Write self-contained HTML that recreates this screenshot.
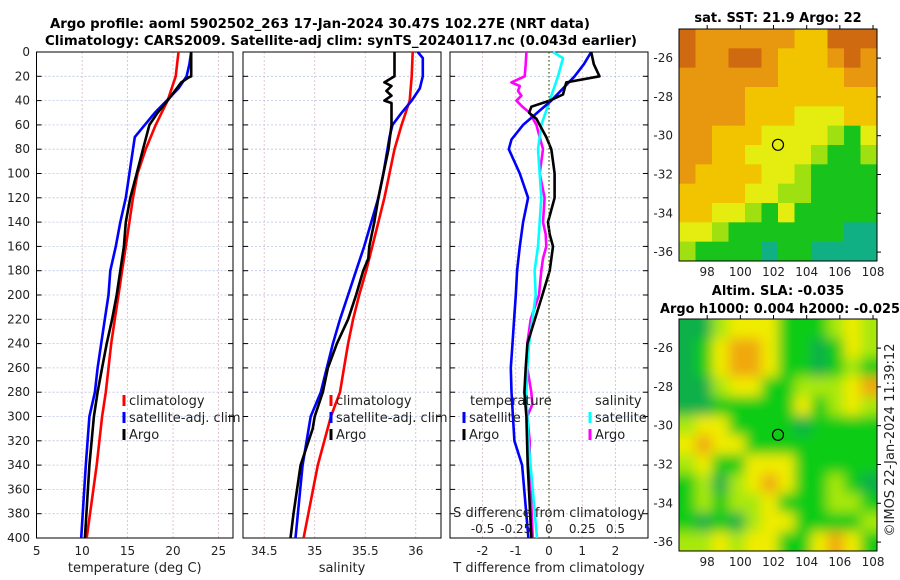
<!DOCTYPE html>
<html><head><meta charset="utf-8"><style>
html,body{margin:0;padding:0;background:#fff;}
svg{display:block;font-family:"DejaVu Sans","Liberation Sans",sans-serif;}
</style></head><body>
<svg id="fig" width="900" height="580" viewBox="0 0 900 580" xmlns="http://www.w3.org/2000/svg">
<defs>
<filter id="blur" x="0" y="0" width="1" height="1"><feGaussianBlur stdDeviation="6"/></filter>
<clipPath id="m1clip"><rect x="679" y="29" width="198" height="232"/></clipPath>
<clipPath id="m2clip"><rect x="679" y="319" width="198" height="232"/></clipPath>
</defs>
<text x="320" y="28" text-anchor="middle" font-weight="bold" font-size="13" textLength="540" lengthAdjust="spacingAndGlyphs">Argo profile: aoml 5902502_263 17-Jan-2024 30.47S 102.27E (NRT data)</text>
<text x="341" y="45" text-anchor="middle" font-weight="bold" font-size="13" textLength="592" lengthAdjust="spacingAndGlyphs">Climatology: CARS2009. Satellite-adj clim: synTS_20240117.nc (0.043d earlier)</text>
<g id="plots"></g>
<g id="maps"></g>
</svg>
<script>
// ---- depth axis ----
const depthTicks = [0,20,40,60,80,100,120,140,160,180,200,220,240,260,280,300,320,340,360,380,400];
// ---- temperature panel ----
const tempTicks = [5,10,15,20,25];
const tDepthClim = [0,20,40,60,80,100,120,140,160,180,200,220,240,260,280,300,340,400];
const tempClim   = [20.6,20.3,19.4,18.1,17.0,16.1,15.6,15.2,14.8,14.4,14.0,13.6,13.2,12.9,12.6,12.2,11.6,10.5];
const tDepthSat  = [0,10,20,30,40,50,60,70,80,100,120,140,160,180,200,220,240,260,280,300,340,400];
const tempSat    = [22.0,21.8,21.5,20.6,19.3,18.0,16.9,15.8,15.6,15.2,14.8,14.2,13.7,13.1,12.9,12.5,12.1,11.7,11.4,10.8,10.4,9.9];
const tDepthArgo = [0,20,21,25,40,50,60,80,100,120,140,160,180,200,220,240,260,280,300,340,400];
const tempArgo   = [22.0,22.0,21.7,20.9,19.4,18.3,17.4,16.7,16.0,15.3,14.8,14.6,14.2,13.8,13.3,12.7,12.2,11.7,11.3,10.8,10.3];
// ---- salinity panel ----
const salTicks = [34.5,35,35.5,36];
const sDepthClim = [0,20,40,60,80,100,120,140,160,180,200,220,240,260,280,300,340,400];
const salClim    = [35.97,35.96,35.94,35.86,35.79,35.74,35.69,35.63,35.57,35.51,35.44,35.38,35.33,35.29,35.25,35.16,35.03,34.89];
const sDepthSat  = [0,5,20,30,40,50,60,70,80,100,120,140,160,180,200,220,240,260,280,300,340,400];
const salSat     = [36.02,36.07,36.07,36.04,35.96,35.86,35.77,35.74,35.72,35.68,35.63,35.56,35.49,35.41,35.33,35.25,35.18,35.12,35.06,34.96,34.88,34.81];
const sDepthArgo = [0,20,25,28,32,36,40,42,60,80,100,120,140,160,170,180,200,220,240,260,280,300,310,340,380,400];
const salArgo    = [35.79,35.79,35.69,35.76,35.71,35.76,35.69,35.76,35.76,35.73,35.68,35.63,35.59,35.54,35.53,35.48,35.41,35.33,35.22,35.13,35.08,35.0,34.98,34.86,34.79,34.76];
// ---- difference panel ----
const tdTicks = [-2,-1,0,1,2];
const sdTicks = [-0.5,-0.25,0,0.25,0.5];
const dDepthTSat = [0,10,20,40,60,72,80,100,120,140,160,180,200,220,240,260,280,320,340,400];
const tDiffSat   = [1.27,1.05,0.77,0.07,-0.78,-1.13,-1.21,-0.88,-0.63,-0.78,-0.88,-0.96,-1.0,-1.05,-1.1,-1.15,-1.13,-1.04,-0.81,-0.62];
const dDepthTArgo = [0,10,20,25,30,35,40,45,50,55,60,65,70,80,90,100,120,140,150,160,180,200,240,260,280,300,340,400];
const tDiffArgo   = [1.27,1.35,1.52,0.52,0.47,0.42,0.02,-0.53,-0.6,-0.38,-0.28,-0.18,-0.08,0.07,0.12,0.17,0.17,-0.03,0.02,0.12,0.02,-0.2,-0.65,-0.7,-0.74,-0.68,-0.64,-0.53];
const dDepthSSat = [0,5,20,40,60,80,100,120,140,160,180,200,220,240,260,280,320,360,400];
const sDiffSat   = [0.03,0.105,0.068,0.005,-0.058,-0.083,-0.07,-0.058,-0.07,-0.083,-0.108,-0.1,-0.125,-0.15,-0.163,-0.17,-0.155,-0.123,-0.09];
const dDepthSArgo = [0,10,20,25,28,32,36,40,45,50,60,70,80,100,120,140,150,160,170,180,200,220,240,260,280,290,300,320,340,400];
const sDiffArgo   = [-0.17,-0.175,-0.183,-0.283,-0.22,-0.233,-0.208,-0.245,-0.2,-0.145,-0.095,-0.07,-0.045,-0.07,-0.033,-0.045,-0.025,-0.02,-0.045,-0.058,-0.075,-0.138,-0.163,-0.163,-0.133,-0.125,-0.163,-0.145,-0.145,-0.123];

const NS='http://www.w3.org/2000/svg';
const plots=document.getElementById('plots');
function mk(tag,attrs,parent){const e=document.createElementNS(NS,tag);for(const k in attrs)e.setAttribute(k,attrs[k]);(parent||plots).appendChild(e);return e;}
const Y0=52,Y1=538;
function yD(d){return Y0+(d/400)*(Y1-Y0);}
const panels=[
 {x0:36.5,x1:233,min:4.98,max:26.6,ticks:tempTicks,label:'temperature (deg C)',name:'temperature'},
 {x0:243,x1:441,min:34.29,max:36.25,ticks:salTicks,label:'salinity',name:'salinity'},
 {x0:450,x1:648,min:-2.98,max:2.98,ticks:tdTicks,label:'T difference from climatology',name:'difference'}
];
function xf(p,v){return p.x0+(v-p.min)/(p.max-p.min)*(p.x1-p.x0);}
panels.forEach((p,i)=>{
  const g=mk('g',{});
  
  
  depthTicks.forEach(d=>{
    if(d>0&&d<400){const l=mk('line',{x1:p.x0,x2:p.x1,y1:yD(d),y2:yD(d),stroke:'#b8c4e8','stroke-width':0.8,'stroke-dasharray':'2,2'},g);
    }
    const t1=mk('line',{x1:p.x0,x2:p.x0+5,y1:yD(d),y2:yD(d),stroke:'#000'},g);
    
    const t2=mk('line',{x1:p.x1-5,x2:p.x1,y1:yD(d),y2:yD(d),stroke:'#000'},g);
    
  });
  p.ticks.forEach(v=>{
    const x=xf(p,v);
    const l=mk('line',{x1:x,x2:x,y1:Y0,y2:Y1,stroke:'#d8b8c8','stroke-width':0.8,'stroke-dasharray':'2,2'},g);
    
    const t=mk('text',{x:x,y:555,'text-anchor':'middle','font-size':12,fill:'#222'},g);
    t.textContent=String(v);
    
  });
  const r=mk('rect',{x:p.x0,y:Y0,width:p.x1-p.x0,height:Y1-Y0,fill:'none',stroke:'#000','stroke-width':1},g);
  
  const xl=mk('text',{x:(p.x0+p.x1)/2,y:572,'text-anchor':'middle','font-size':13,fill:'#222'},g);
  xl.textContent=p.label;
  
  p.g=g;
});
depthTicks.forEach(d=>{
  const t=mk('text',{x:30,y:yD(d)+4,'text-anchor':'end','font-size':12,fill:'#222'});
  t.textContent=String(d);
  
});
// zero line in diff panel
const zl=mk('line',{x1:xf(panels[2],0),x2:xf(panels[2],0),y1:Y0,y2:Y1,stroke:'#445522','stroke-width':1.2,'stroke-dasharray':'1.5,2.5'});


function series(p,depths,vals,color,name,scale){
  const pts=depths.map((d,i)=>xf(p,vals[i]*(scale||1)).toFixed(1)+','+yD(d).toFixed(1)).join(' ');
  const l=mk('polyline',{points:pts,fill:'none',stroke:color,'stroke-width':2.6,'stroke-linejoin':'round'},p.g);
  
  
}
series(panels[0],tDepthClim,tempClim,'#ff0000','temp-climatology-line');
series(panels[0],tDepthSat,tempSat,'#0000ff','temp-satellite-line');
series(panels[0],tDepthArgo,tempArgo,'#000000','temp-argo-line');
series(panels[1],sDepthClim,salClim,'#ff0000','sal-climatology-line');
series(panels[1],sDepthSat,salSat,'#0000ff','sal-satellite-line');
series(panels[1],sDepthArgo,salArgo,'#000000','sal-argo-line');
series(panels[2],dDepthSArgo,sDiffArgo,'#ff00ff','sdiff-argo-line',4);
series(panels[2],dDepthSSat,sDiffSat,'#00ffff','sdiff-satellite-line',4);
series(panels[2],dDepthTSat,tDiffSat,'#0000ff','tdiff-satellite-line');
series(panels[2],dDepthTArgo,tDiffArgo,'#000000','tdiff-argo-line');

// legends
function legEntry(x,y,color,label,name){
  const g=mk('g',{});
  
  
  mk('line',{x1:x,x2:x,y1:y-8,y2:y+3,stroke:color,'stroke-width':3},g);
  const t=mk('text',{x:x+5,y:y+2,'font-size':13,fill:'#222'},g);
  t.textContent=label;
}
[[124,'temp'],[331,'sal']].forEach(([x,n])=>{
  legEntry(x,403,'#ff0000','climatology',n+'-legend-climatology');
  legEntry(x,420,'#0000ff','satellite-adj. clim',n+'-legend-satellite');
  legEntry(x,437,'#000000','Argo',n+'-legend-argo');
});
const lt=mk('text',{x:470,y:405,'font-size':13,fill:'#222'});lt.textContent='temperature';

const ls=mk('text',{x:595,y:405,'font-size':13,fill:'#222'});ls.textContent='salinity';

legEntry(464,420,'#0000ff','satellite','diff-legend-t-satellite');
legEntry(464,437,'#000000','Argo','diff-legend-t-argo');
legEntry(590,420,'#00ffff','satellite','diff-legend-s-satellite');
legEntry(590,437,'#ff00ff','Argo','diff-legend-s-argo');
const sdl=mk('text',{x:549,y:517,'text-anchor':'middle','font-size':13,fill:'#222'});sdl.textContent='S difference from climatology';

sdTicks.forEach(v=>{
  const t=mk('text',{x:xf(panels[2],v*4),y:533,'text-anchor':'middle','font-size':12,fill:'#222'});
  t.textContent=String(v);
  
});

// ---- maps ----
const mapLonTicks=[98,100,102,104,106,108];
const mapLatTicks=[-26,-28,-30,-32,-34,-36];
const sstGrid=[
"DOOOOOOYYDDD",
"DOODDOYYYODO",
"OOOOOOYYYYOO",
"OOOOYYYYYYYY",
"OOOOYYYLLLYY",
"OOYYYLLLLGgL",
"OOYYLLLLGggG",
"OYYYYLLGgggg",
"YYYYLLGGgggg",
"YYLLGgLggggg",
"LLGgggggggTT",
"GggggTggTTTT"];
const slaGrid=[
"TTLYYYgggLYL",
"TgYOOYggTgYL",
"TgYOOYggTgLg",
"TTLYYggLLLYO",
"TTggggg YgLYL".replace(' ',''),
"LYYggggTgggg",
"YOYYgggggggg",
"LYggYYYggggg",
"gLTLYOYggLgT",
"gLgLLYgggLLg",
"gTgTLYYggggL",
"LLYLYYggYOYg"];
const sstColors={D:'#d06a10',O:'#e8980e',Y:'#f2c400',L:'#e4ec10',G:'#9ee010',g:'#18c41c',T:'#10b084'};
const slaColors={T:'#10b048',g:'#10cc18',L:'#a8e810',Y:'#f0ec00',O:'#f0a810'};
const maps=document.getElementById('maps');
const LON0=96.3,LON1=108.24,LAT0=-24.5,LAT1=-36.46;
function drawMap(top,grid,colors,blur,name,clip){
  const g=document.createElementNS(NS,'g');maps.appendChild(g);
  const X0=679,W=198,H=232;
  const cg=document.createElementNS(NS,'g');cg.setAttribute('clip-path','url(#'+clip+')');g.appendChild(cg);
  const inner=document.createElementNS(NS,'g');if(blur)inner.setAttribute('filter','url(#blur)');cg.appendChild(inner);
  const rows=grid.length,cols=grid[0].length,cw=W/cols,ch=H/rows;
  const pad=blur?1:0;
  for(let r=-pad;r<rows+pad;r++)for(let c=-pad;c<cols+pad;c++){
    const rr=Math.min(rows-1,Math.max(0,r)),cc=Math.min(cols-1,Math.max(0,c));
    const e=document.createElementNS(NS,'rect');
    e.setAttribute('x',X0+c*cw);e.setAttribute('y',top+r*ch);e.setAttribute('width',cw+0.6);e.setAttribute('height',ch+0.6);
    e.setAttribute('fill',colors[grid[rr][cc]]);inner.appendChild(e);
  }
  const lx=v=>X0+(v-LON0)/(LON1-LON0)*W, ly=v=>top+(v-LAT0)/(LAT1-LAT0)*H;
  const box=document.createElementNS(NS,'rect');
  box.setAttribute('x',X0);box.setAttribute('y',top);box.setAttribute('width',W);box.setAttribute('height',H);
  box.setAttribute('fill','none');box.setAttribute('stroke','#000');g.appendChild(box);
  mapLonTicks.forEach(v=>{
    const t=document.createElementNS(NS,'text');t.setAttribute('x',lx(v));t.setAttribute('y',top+H+15);
    t.setAttribute('text-anchor','middle');t.setAttribute('font-size','12');t.setAttribute('fill','#222');t.textContent=String(v);
    g.appendChild(t);
    const k=document.createElementNS(NS,'line');k.setAttribute('x1',lx(v));k.setAttribute('x2',lx(v));k.setAttribute('y1',top-4);k.setAttribute('y2',top);k.setAttribute('stroke','#000');g.appendChild(k);
  });
  mapLatTicks.forEach(v=>{
    const t=document.createElementNS(NS,'text');t.setAttribute('x',X0-6);t.setAttribute('y',ly(v)+4);
    t.setAttribute('text-anchor','end');t.setAttribute('font-size','12');t.setAttribute('fill','#222');t.textContent=String(v);
    g.appendChild(t);
    const k=document.createElementNS(NS,'line');k.setAttribute('x1',X0+W);k.setAttribute('x2',X0+W+4);k.setAttribute('y1',ly(v));k.setAttribute('y2',ly(v));k.setAttribute('stroke','#000');g.appendChild(k);
  });
  const c=document.createElementNS(NS,'circle');c.setAttribute('cx',lx(102.27));c.setAttribute('cy',ly(-30.47));c.setAttribute('r',5.5);
  c.setAttribute('fill','none');c.setAttribute('stroke','#000');c.setAttribute('stroke-width','1.2');
  g.appendChild(c);
}
drawMap(29,sstGrid,sstColors,false,'sst-map','m1clip');
drawMap(319,slaGrid,slaColors,true,'sla-map','m2clip');
function mtext(x,y,s,name,extra){const t=document.createElementNS(NS,'text');t.setAttribute('x',x);t.setAttribute('y',y);
 t.setAttribute('text-anchor','middle');t.setAttribute('font-size','13');t.setAttribute('font-weight','bold');t.textContent=s;
 
 if(extra)for(const k in extra)t.setAttribute(k,extra[k]);maps.appendChild(t);}
mtext(778,22,'sat. SST: 21.9 Argo: 22','sst-map-title');
mtext(778,295,'Altim. SLA: -0.035','sla-map-title-1');
mtext(780,313,'Argo h1000: 0.004 h2000: -0.025','sla-map-title-2',{textLength:'240',lengthAdjust:'spacingAndGlyphs'});
const cr=document.createElementNS(NS,'text');
cr.setAttribute('x',0);cr.setAttribute('y',0);cr.setAttribute('text-anchor','middle');cr.setAttribute('font-size','13');cr.setAttribute('fill','#222');
cr.setAttribute('transform','translate(894,440) rotate(-90)');cr.textContent='©IMOS 22-Jan-2024 11:39:12';


maps.appendChild(cr);
</script>
</body></html>
